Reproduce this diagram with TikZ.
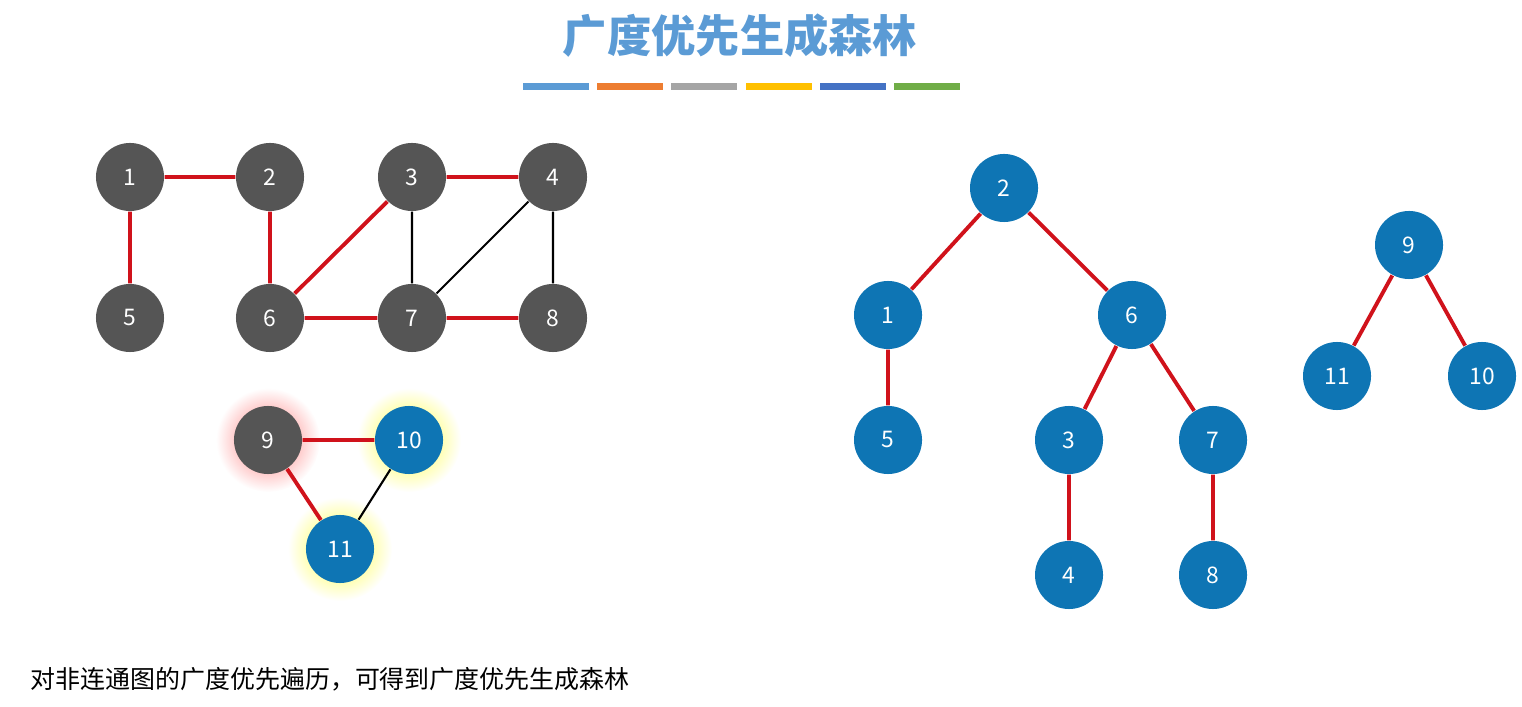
\documentclass[tikz,border=0pt]{standalone}
\usepackage{fontspec}
\setmainfont{Noto Sans CJK SC}
\definecolor{titleblue}{HTML}{5B9BD5}
\definecolor{nodegray}{HTML}{555555}
\definecolor{nodeblue}{HTML}{0E75B4}
\definecolor{edgered}{HTML}{D0121B}
\definecolor{b0}{HTML}{5B9BD5}\definecolor{b1}{HTML}{ED7D31}\definecolor{b2}{HTML}{A5A5A5}
\definecolor{b3}{HTML}{FFC000}\definecolor{b4}{HTML}{4472C4}\definecolor{b5}{HTML}{70AD47}
\tikzset{
  vert/.style={circle,minimum size=0.68cm,inner sep=0pt,text=white,font=\fontsize{6.5pt}{7pt}\selectfont},
  gv/.style={vert,fill=nodegray},
  bv/.style={vert,fill=nodeblue},
  tree/.style={line width=1.1pt,edgered},
  plain/.style={black,line width=0.6pt}
}
\begin{document}
\begin{tikzpicture}[x=0.01cm,y=-0.01cm]
        \useasboundingbox (0,0) rectangle (1522,707);
        \node[font=\fontsize{12.6pt}{13pt}\selectfont\bfseries,text=titleblue] (title) at (740,36) {广度优先生成森林};
        \foreach \i in {0,...,5}
            \fill[b\i] (523+\i*74.2,83) rectangle ++(66,7);
        % glows
        \shade[inner color=red!55,outer color=white] (268,440) circle (52);
        \shade[inner color=yellow!80,outer color=white] (409,440) circle (52);
        \shade[inner color=yellow!80,outer color=white] (340,549) circle (52);
        % graph
        \node[gv] (g1) at (130,177) {1};
        \node[gv] (g2) at (270,177) {2};
        \node[gv] (g3) at (412,177) {3};
        \node[gv] (g4) at (553,177) {4};
        \node[gv] (g5) at (130,318) {5};
        \node[gv] (g6) at (270,318) {6};
        \node[gv] (g7) at (412,318) {7};
        \node[gv] (g8) at (553,318) {8};
        \node[gv] (g9) at (268,440) {9};
        \node[bv] (g10) at (409,440) {10};
        \node[bv] (g11) at (340,549) {11};
        \draw[tree] (g1) -- (g2) (g1) -- (g5) (g2) -- (g6) (g3) -- (g6) (g3) -- (g4)
            (g6) -- (g7) (g7) -- (g8) (g9) -- (g10) (g9) -- (g11);
        \draw[plain] (g3) -- (g7) (g4) -- (g7) (g4) -- (g8) (g10) -- (g11);
        % forest
        \node[bv] (t2) at (1004,188) {2};
        \node[bv] (t1) at (888,315) {1};
        \node[bv] (t6) at (1132,315) {6};
        \node[bv] (t5) at (888,440) {5};
        \node[bv] (t3) at (1069,440) {3};
        \node[bv] (t7) at (1213,440) {7};
        \node[bv] (t4) at (1069,575) {4};
        \node[bv] (t8) at (1213,575) {8};
        \node[bv] (t9) at (1409,245) {9};
        \node[bv] (t11) at (1337,376) {11};
        \node[bv] (t10) at (1482,376) {10};
        \draw[tree] (t2) -- (t1) (t2) -- (t6) (t1) -- (t5) (t6) -- (t3) (t6) -- (t7)
            (t3) -- (t4) (t7) -- (t8) (t9) -- (t11) (t9) -- (t10);
        \node[anchor=west,font=\fontsize{7.1pt}{8pt}\selectfont] (note) at (18,679) {对非连通图的广度优先遍历，可得到广度优先生成森林};
\end{tikzpicture}
\end{document}
